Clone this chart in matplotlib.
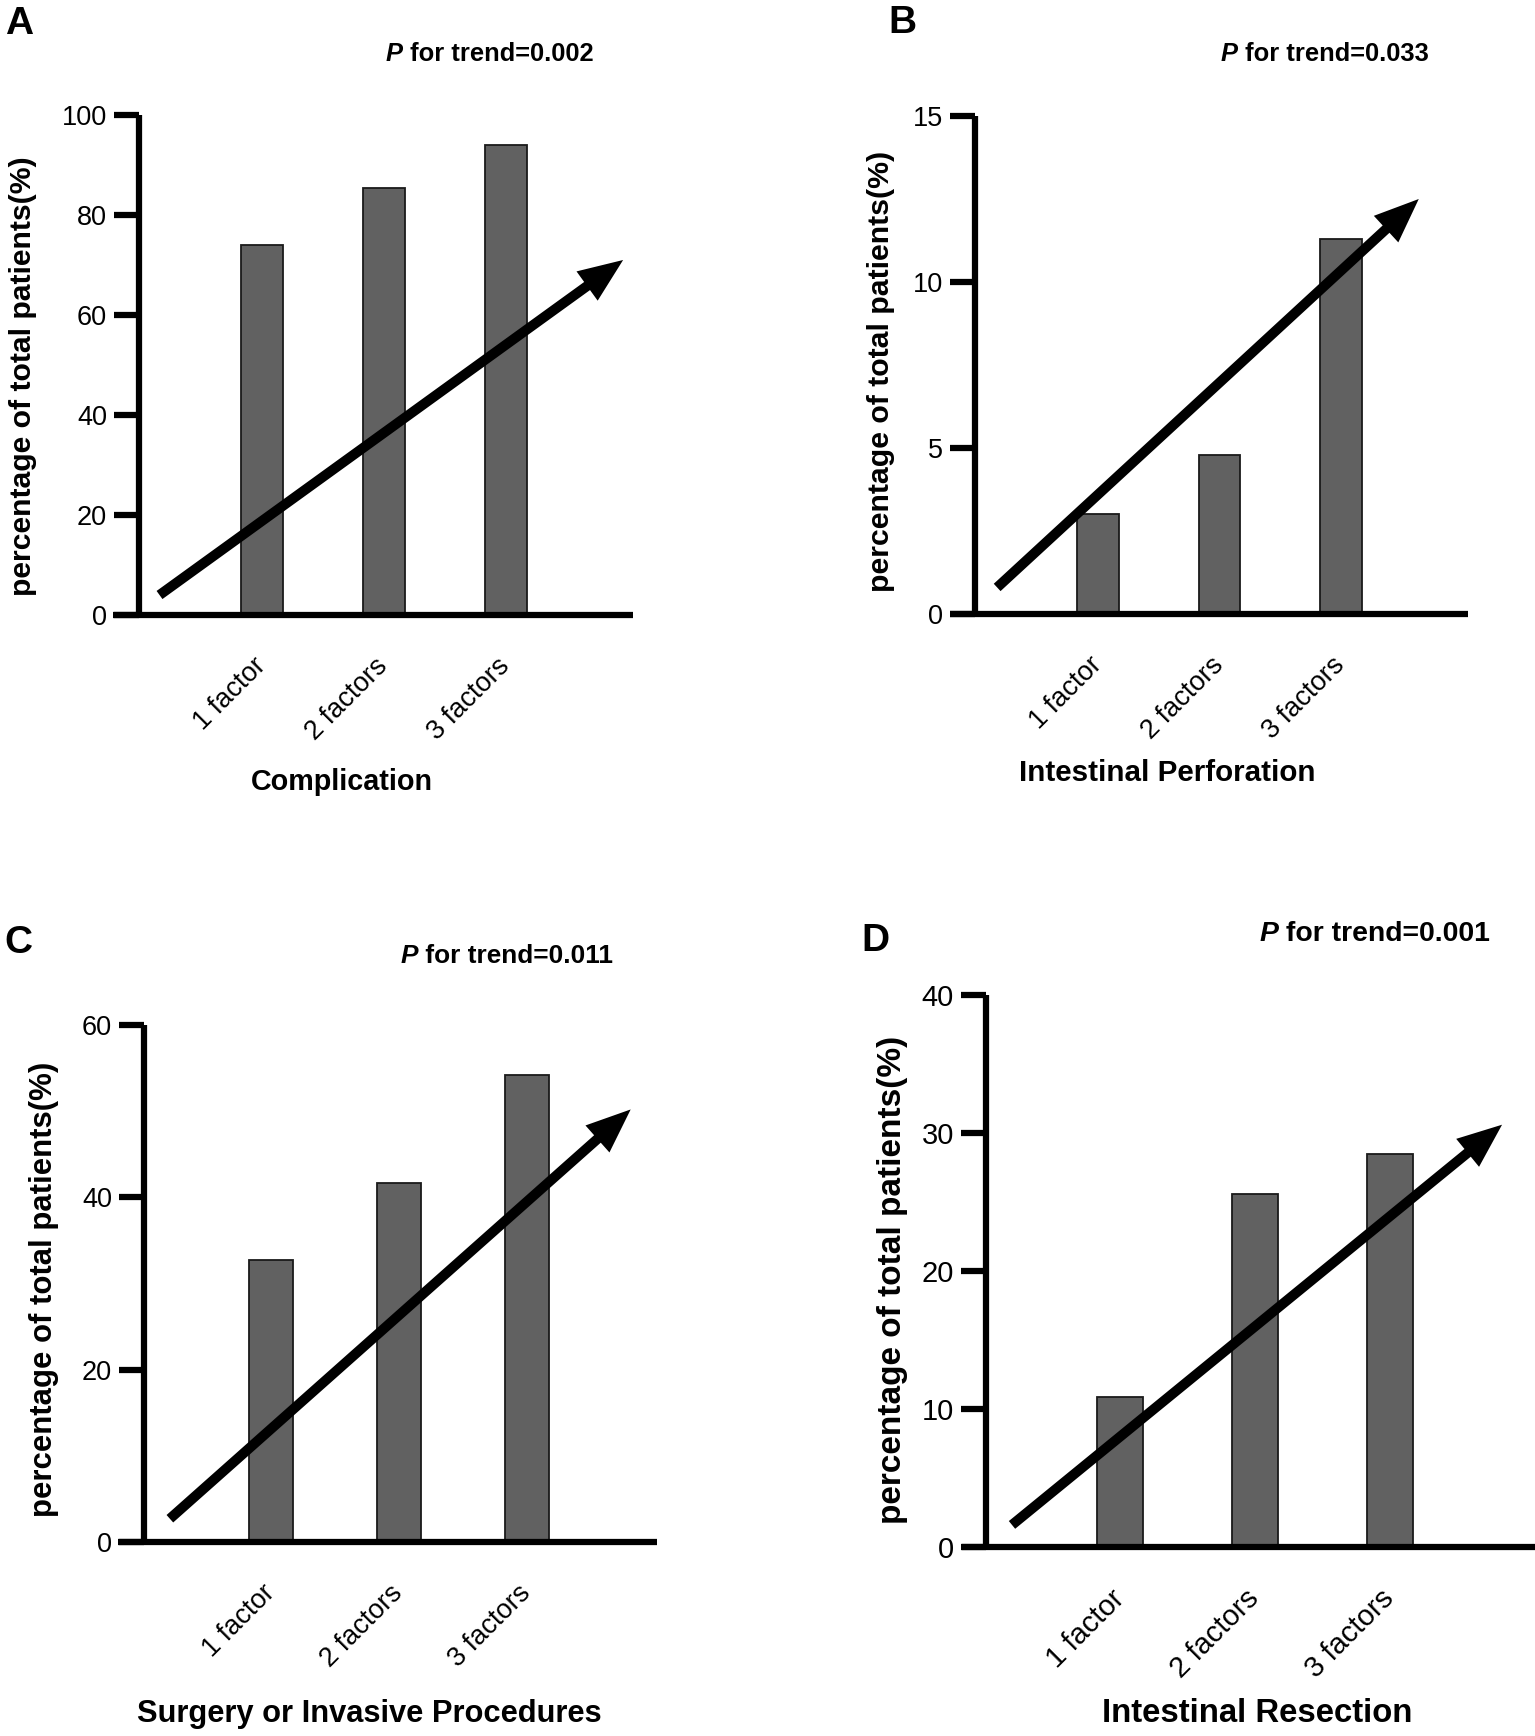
# Trend of outcomes by number of risk factors, 4 panels (A-D)
import numpy as np
import matplotlib
matplotlib.use('Agg')
import matplotlib.pyplot as plt
from matplotlib.patches import FancyArrowPatch

plt.rcParams['font.family'] = ['Liberation Sans', 'DejaVu Sans']

W, H = 1535, 1736

# Data
groups = ['1 factor', '2 factors', '3 factors']
complication = [73.9, 85.3, 94.0]
perforation = [3.0, 4.8, 11.3]
surgery = [32.7, 41.7, 54.2]
resection = [10.9, 25.6, 28.5]
values = [complication, perforation, surgery, resection]

outcomes = ['Complication', 'Intestinal Perforation',
            'Surgery or Invasive Procedures', 'Intestinal Resection']
p_trend = ['0.002', '0.033', '0.011', '0.001']
letters = ['A', 'B', 'C', 'D']
y_max = [100, 15, 60, 40]
y_step = [20, 5, 20, 10]

# trend arrows, tail and head in data units
arrow_tail = [(-0.84, 4.0), (-0.83, 0.8), (-0.79, 2.7), (-0.80, 1.6)]
arrow_head = [(2.96, 71.0), (2.64, 12.5), (2.81, 50.2), (2.83, 30.6)]

# Layout (pixels): x-axis left/right, y-axis x, y of 0, y of top, first bar centre, bar spacing
frames = [(113, 633, 139, 615, 115, 262, 122),
          (950, 1468, 975, 614, 116, 1098, 121.5),
          (118, 657, 144, 1542, 1025, 271, 128),
          (962, 1535, 986, 1547, 995, 1120, 135)]
letter_pos = [(19, 24), (902, 23), (18, 943), (875, 941)]
p_pos = [(386, 54), (1221, 54), (401, 956), (1259, 934)]
ylab_pos = [(23.5, 376), (881, 371), (44, 1289), (893, 1280)]
xlab_pos = [(342, 782), (1167, 773), (369, 1714), (1257.5, 1714)]
p_size = [18.4, 18.4, 18.9, 20.4]
ylab_size = [21.7, 21.8, 22.4, 24.0]
xlab_size = [20.7, 21.3, 22.2, 23.7]
tick_size = [19.5, 19.5, 19.5, 21]


def fx(px):
    return px / W


def fy(py):
    return 1 - py / H


fig = plt.figure(figsize=(W / 100, H / 100), dpi=100)

for i in range(4):
    x_l, x_r, x_y, y0, y1, c0, dx = frames[i]
    ax = fig.add_axes([fx(x_l), fy(y0), (x_r - x_l) / W, (y0 - y1) / H])
    x = np.arange(len(groups))
    ax.bar(x, values[i], width=0.345, color='#616161', edgecolor='#1a1a1a',
           linewidth=1.3, zorder=2)
    ax.set_xlim((x_l - c0) / dx, (x_r - c0) / dx)
    ax.set_ylim(0, y_max[i])
    ax.set_yticks(np.arange(0, y_max[i] + 1, y_step[i]))
    ax.set_xticks(x)
    ax.set_xticklabels(groups, rotation=45, ha='right', va='center',
                       rotation_mode='anchor')
    ax.spines[['top', 'right']].set_visible(False)
    ax.spines['left'].set_position(('axes', (x_y - x_l) / (x_r - x_l)))
    for sp in ['left', 'bottom']:
        ax.spines[sp].set_linewidth(4.5)
        ax.spines[sp].set_capstyle('butt')
    ax.tick_params(axis='y', length=18, width=4.5, labelsize=tick_size[i], pad=5)
    ax.tick_params(axis='x', length=0, labelsize=tick_size[i], pad=34)
    ax.patch.set_visible(False)

    arr = FancyArrowPatch(arrow_tail[i], arrow_head[i],
                          arrowstyle='simple,head_length=32,head_width=26,tail_width=7.2',
                          mutation_scale=1, color='black', lw=0,
                          shrinkA=0, shrinkB=0, zorder=4, clip_on=False)
    ax.add_patch(arr)

    # panel letter
    fig.text(fx(letter_pos[i][0]), fy(letter_pos[i][1]), letters[i],
             fontsize=28, fontweight='bold', ha='center', va='center')
    # P for trend
    t = fig.text(fx(p_pos[i][0]), fy(p_pos[i][1]), 'P', fontsize=p_size[i],
                 fontweight='bold', fontstyle='italic', ha='left', va='center')
    ax.annotate(' for trend=' + p_trend[i], xy=(1, 0.5), xycoords=t,
                ha='left', va='center', fontsize=p_size[i], fontweight='bold')
    # axis titles
    fig.text(fx(ylab_pos[i][0]), fy(ylab_pos[i][1]), 'percentage of total patients(%)',
             rotation=90, ha='center', va='center', fontsize=ylab_size[i],
             fontweight='bold')
    fig.text(fx(xlab_pos[i][0]), fy(xlab_pos[i][1]), outcomes[i],
             ha='center', va='center', fontsize=xlab_size[i], fontweight='bold')

fig.savefig('out.png', dpi=100)
